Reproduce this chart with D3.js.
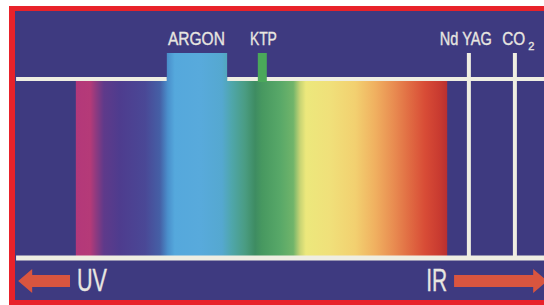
<!DOCTYPE html>
<html>
<head>
<meta charset="utf-8">
<script src="https://cdn.jsdelivr.net/npm/d3@7"></script>
<style>
  html, body { margin: 0; padding: 0; background: #fff; }
  svg { display: block; }
  text { font-family: "Liberation Sans", Arial, sans-serif; fill: #e8e6e0; stroke: #e8e6e0; stroke-width: 0.35; }
</style>
</head>
<body>
<div id="chart"></div>
<script>
// positions are in % of the panel width (left = UV side, right = IR side)
var spectrumPos = [11.5, 14.2, 15.3, 16.8, 19.8, 24.6, 27.4, 28.9, 30.2, 35.0, 39.1, 41.0,
                   43.5, 45.4, 46.7, 50.1, 52.6, 53.9, 55.0, 59.5, 64.3, 68.1, 71.8, 74.7,
                   77.5, 80.3, 81.7];
var spectrumColors = ["#b3387a", "#b53a78", "#8e3a80", "#5f3a8a", "#4e3c8e", "#4a4896",
                      "#4560a6", "#4a90cc", "#55a8dc", "#58aadc", "#55a8d0", "#4fa6aa",
                      "#4a9c82", "#3e8c62", "#479860", "#58a868", "#70b46a", "#c8d474",
                      "#ece87c", "#f0e07a", "#f2d070", "#f0b060", "#e88a50", "#e06a42",
                      "#d84c36", "#c83a30", "#b83030"];

var laserNames = ["ARGON", "KTP", "Nd YAG", "CO"];
var laserSub = ["", "", "", "2"];
var laserKind = ["band", "band", "line", "line"];
var laserFrom = [28.7, 45.9, 85.8, 94.5];
var laserTo = [40.1, 47.6, 85.8, 94.5];
var labelLeft = [28.9, 44.4, 80.3, 92.1];
var labelWidth = [57, 27, 52, 23];

var arrowLabels = ["UV", "IR"];
var arrowTail = [10.4, 83.0];
var arrowTip = [0.6, 100.6];
var arrowText = [11.7, 81.7];
var arrowTextWidth = [30, 21];

var W = 544, H = 305;
var panel = {left: 15, top: 11, right: 544, bottom: 300};
var Y = {label: 45, bandTop: 53, topLine: 79, bottomLine: 258, arrow: 281};

var svg = d3.select("#chart").append("svg").attr("width", W).attr("height", H);

// frame
svg.append("rect").attr("x", 9).attr("y", 6).attr("width", W - 9).attr("height", H - 6)
  .attr("fill", "#e8222a");
svg.append("rect").attr("x", panel.left).attr("y", panel.top)
  .attr("width", panel.right - panel.left).attr("height", panel.bottom - panel.top)
  .attr("fill", "#3e3a80");

var x = d3.scaleLinear().domain([0, 100]).range([panel.left, panel.right]);

var x0 = x(spectrumPos[0]), x1 = x(spectrumPos[spectrumPos.length - 1]);
var grad = svg.append("defs").append("linearGradient").attr("id", "spec")
  .attr("gradientUnits", "userSpaceOnUse")
  .attr("x1", x0).attr("x2", x1).attr("y1", 0).attr("y2", 0);
grad.selectAll("stop").data(spectrumPos).join("stop")
  .attr("offset", function(d) { return (x(d) - x0) / (x1 - x0); })
  .attr("stop-color", function(d, i) { return spectrumColors[i]; });

// visible spectrum
svg.append("rect").attr("x", x0).attr("y", Y.topLine).attr("width", x1 - x0)
  .attr("height", Y.bottomLine - Y.topLine).attr("fill", "url(#spec)");

var lasers = laserNames.map(function(n, i) {
  return {name: n, sub: laserSub[i], kind: laserKind[i], from: laserFrom[i], to: laserTo[i],
          left: labelLeft[i], width: labelWidth[i]};
});

// top white line, broken by the argon band
var argon = lasers[0];
var lineColor = "#efeee2";
[[0.2, argon.from], [argon.to, 100]].forEach(function(seg) {
  svg.append("line").attr("x1", x(seg[0])).attr("x2", x(seg[1]))
    .attr("y1", Y.topLine).attr("y2", Y.topLine)
    .attr("stroke", lineColor).attr("stroke-width", 4);
});

// laser bands above the line
svg.selectAll("rect.band").data(lasers.filter(function(d) { return d.kind == "band"; }))
  .join("rect").attr("class", "band")
  .attr("x", function(d) { return x(d.from); })
  .attr("width", function(d) { return x(d.to) - x(d.from); })
  .attr("y", Y.bandTop)
  .attr("height", function(d) { return (d.name == "ARGON" ? Y.topLine + 2 : Y.topLine + 3) - Y.bandTop; })
  .attr("fill", function(d) { return d.name == "ARGON" ? "url(#spec)" : "#4aa85a"; });

// bottom white line
svg.append("line").attr("x1", x(0.2)).attr("x2", x(100))
  .attr("y1", Y.bottomLine).attr("y2", Y.bottomLine)
  .attr("stroke", lineColor).attr("stroke-width", 5);

// IR laser lines
svg.selectAll("line.laser").data(lasers.filter(function(d) { return d.kind == "line"; }))
  .join("line").attr("class", "laser")
  .attr("x1", function(d) { return x(d.from); }).attr("x2", function(d) { return x(d.from); })
  .attr("y1", Y.bandTop).attr("y2", Y.bottomLine)
  .attr("stroke", lineColor).attr("stroke-width", 4);

// labels (condensed look via textLength)
svg.selectAll("text.laser").data(lasers).join("text").attr("class", "laser")
  .attr("x", function(d) { return x(d.left); })
  .attr("y", Y.label)
  .attr("font-size", 18)
  .attr("textLength", function(d) { return d.width; })
  .attr("lengthAdjust", "spacingAndGlyphs")
  .text(function(d) { return d.name; });
svg.selectAll("text.sub").data(lasers.filter(function(d) { return d.sub; })).join("text")
  .attr("class", "sub")
  .attr("x", function(d) { return x(d.left) + d.width + 3; })
  .attr("y", Y.label + 5)
  .attr("font-size", 11)
  .text(function(d) { return d.sub; });

// UV / IR arrows
var arrows = arrowLabels.map(function(n, i) {
  return {name: n, tail: arrowTail[i], tip: arrowTip[i], text: arrowText[i], width: arrowTextWidth[i]};
});
var headLen = 14, headHalf = 12, shaftHalf = 6;
svg.selectAll("path.arrow").data(arrows).join("path").attr("class", "arrow")
  .attr("fill", "#d9553f")
  .attr("d", function(d) {
    var tip = x(d.tip), tail = x(d.tail), dir = tip > tail ? 1 : -1;
    var base = tip - dir * headLen, cy = Y.arrow;
    return d3.line()([[tail, cy - shaftHalf], [base, cy - shaftHalf], [base, cy - headHalf],
      [tip, cy], [base, cy + headHalf], [base, cy + shaftHalf], [tail, cy + shaftHalf]]) + "Z";
  });
svg.selectAll("text.dir").data(arrows).join("text").attr("class", "dir")
  .attr("x", function(d) { return d.tip < d.tail ? x(d.text) : x(d.text) - d.width; })
  .attr("y", Y.arrow + 10)
  .attr("font-size", 32)
  .attr("textLength", function(d) { return d.width; })
  .attr("lengthAdjust", "spacingAndGlyphs")
  .text(function(d) { return d.name; });
</script>
</body>
</html>
